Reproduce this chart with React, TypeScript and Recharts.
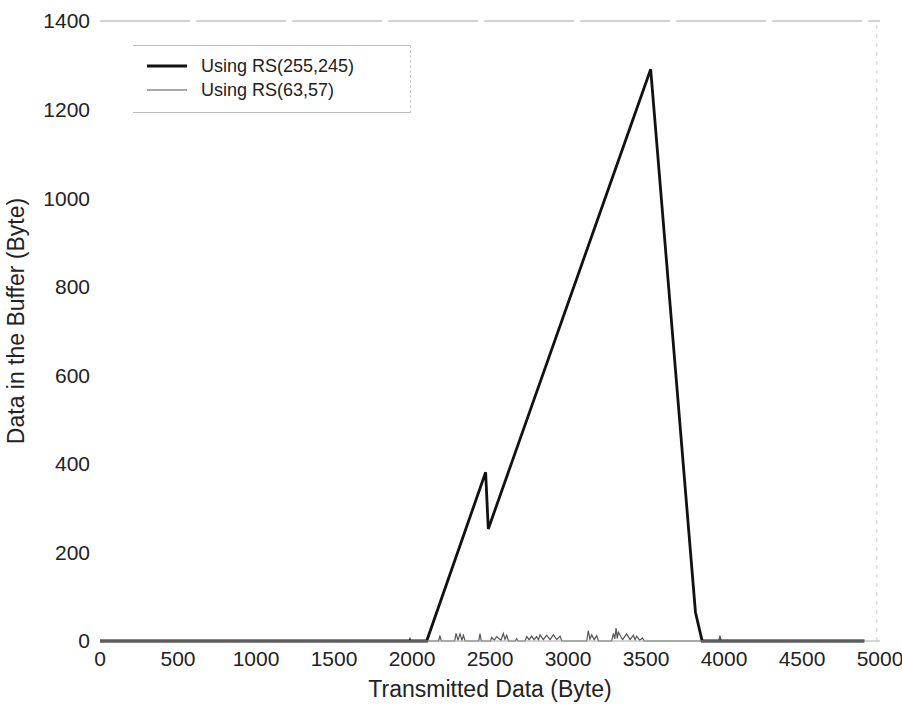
import { Legend, Line, LineChart, ReferenceLine, XAxis, YAxis } from "recharts";

const xTicks = [0, 500, 1000, 1500, 2000, 2500, 3000, 3500, 4000, 4500, 5000];
const yTicks = [0, 200, 400, 600, 800, 1000, 1200, 1400];

// RS(255,245): buffer fills after ~2100 bytes, peaks near 3500
const rs255X = [0, 2094, 2472, 2489, 3530, 3817, 3860, 4900];
const rs255Y = [0, 0, 381, 253, 1291, 65, 0, 0];

// RS(63,57): stays near zero, small spikes only
const rs63X = [
  0, 1980, 1987, 1994, 2170, 2179, 2188, 2274, 2282, 2295, 2308, 2320, 2330, 2340,
  2428, 2436, 2444, 2503, 2511, 2527, 2543, 2570, 2585, 2596, 2607, 2618, 2663, 2671,
  2679, 2725, 2735, 2751, 2767, 2783, 2799, 2810, 2821, 2842, 2863, 2885, 2906, 2928,
  2949, 2960, 3120, 3130, 3141, 3152, 3168, 3184, 3195, 3280, 3291, 3300, 3308, 3316,
  3323, 3350, 3376, 3398, 3419, 3430, 3440, 3459, 3478, 3488, 3966, 3974, 3982, 4900,
];
const rs63Y = [
  0, 0, 6, 0, 0, 11, 0, 0, 17, 2, 16, 2, 13, 0,
  0, 16, 0, 0, 8, 2, 10, 2, 17, 4, 13, 0, 0, 5,
  0, 0, 10, 3, 11, 3, 10, 3, 14, 3, 13, 3, 14, 3,
  11, 0, 0, 23, 4, 14, 3, 12, 0, 0, 17, 5, 29, 6,
  20, 3, 16, 3, 13, 3, 11, 2, 7, 0, 0, 12, 0, 0,
];

const toPoints = (xs: number[], ys: number[]) => xs.map((x, i) => ({ x, y: ys[i] }));

const FONT = "'Liberation Sans', Arial, sans-serif";
const tickStyle = { fontSize: 21, fill: "#222", fontFamily: FONT };
const titleStyle = { fontSize: 23, fill: "#222", fontFamily: FONT };

function LegendBox() {
  const row = (label: string, color: string, width: number) => (
    <div style={{ display: "flex", alignItems: "center", height: 24 }}>
      <svg width={44} height={10} style={{ marginRight: 12 }}>
        <line x1={2} y1={5} x2={42} y2={5} stroke={color} strokeWidth={width} />
      </svg>
      <span>{label}</span>
    </div>
  );
  return (
    <div
      style={{
        borderTop: "1px solid #bbb",
        borderBottom: "1px solid #bbb",
        borderRight: "1px dashed #ccc",
        padding: "8px 12px 10px",
        width: 253,
        fontFamily: FONT,
        fontSize: 18,
        color: "#222",
        background: "#fff",
      }}
    >
      {row("Using RS(255,245)", "#111", 2.8)}
      {row("Using RS(63,57)", "#555", 1.2)}
    </div>
  );
}

export default function App() {
  return (
    <div style={{ position: "absolute", left: 0, top: 0, width: 902, height: 704, background: "#fff" }}>
      <LineChart width={902} height={704} margin={{ top: 21, right: 22, bottom: 0, left: 0 }}>
        <XAxis
          type="number"
          dataKey="x"
          domain={[0, 5000]}
          ticks={xTicks}
          allowDataOverflow
          height={63}
          tickLine={false}
          tickMargin={4}
          axisLine={{ stroke: "#aaa" }}
          tick={tickStyle}
          label={{
            value: "Transmitted Data (Byte)",
            position: "insideBottom",
            offset: 7,
            style: titleStyle,
          }}
        />
        <YAxis
          type="number"
          domain={[0, 1400]}
          ticks={yTicks}
          width={100}
          axisLine={false}
          tickLine={false}
          tickMargin={4}
          tick={tickStyle}
          label={{
            value: "Data in the Buffer (Byte)",
            angle: -90,
            position: "insideLeft",
            offset: 16,
            dy: -10,
            style: { ...titleStyle, textAnchor: "middle" },
          }}
        />
        <ReferenceLine y={1400} stroke="#aaa" strokeDasharray="90 6" />
        <ReferenceLine x={4980} stroke="#ccc" strokeDasharray="4 5" />
        <Legend
          verticalAlign="middle"
          align="center"
          layout="horizontal"
          content={() => <LegendBox />}
          wrapperStyle={{ position: "absolute", left: 133, top: 45, width: 280 }}
        />
        <Line
          data={toPoints(rs63X, rs63Y)}
          dataKey="y"
          name="Using RS(63,57)"
          type="linear"
          stroke="#555"
          strokeWidth={1.2}
          dot={false}
          isAnimationActive={false}
        />
        <Line
          data={toPoints(rs255X, rs255Y)}
          dataKey="y"
          name="Using RS(255,245)"
          type="linear"
          stroke="#111"
          strokeWidth={2.8}
          dot={false}
          isAnimationActive={false}
        />
      </LineChart>
    </div>
  );
}
